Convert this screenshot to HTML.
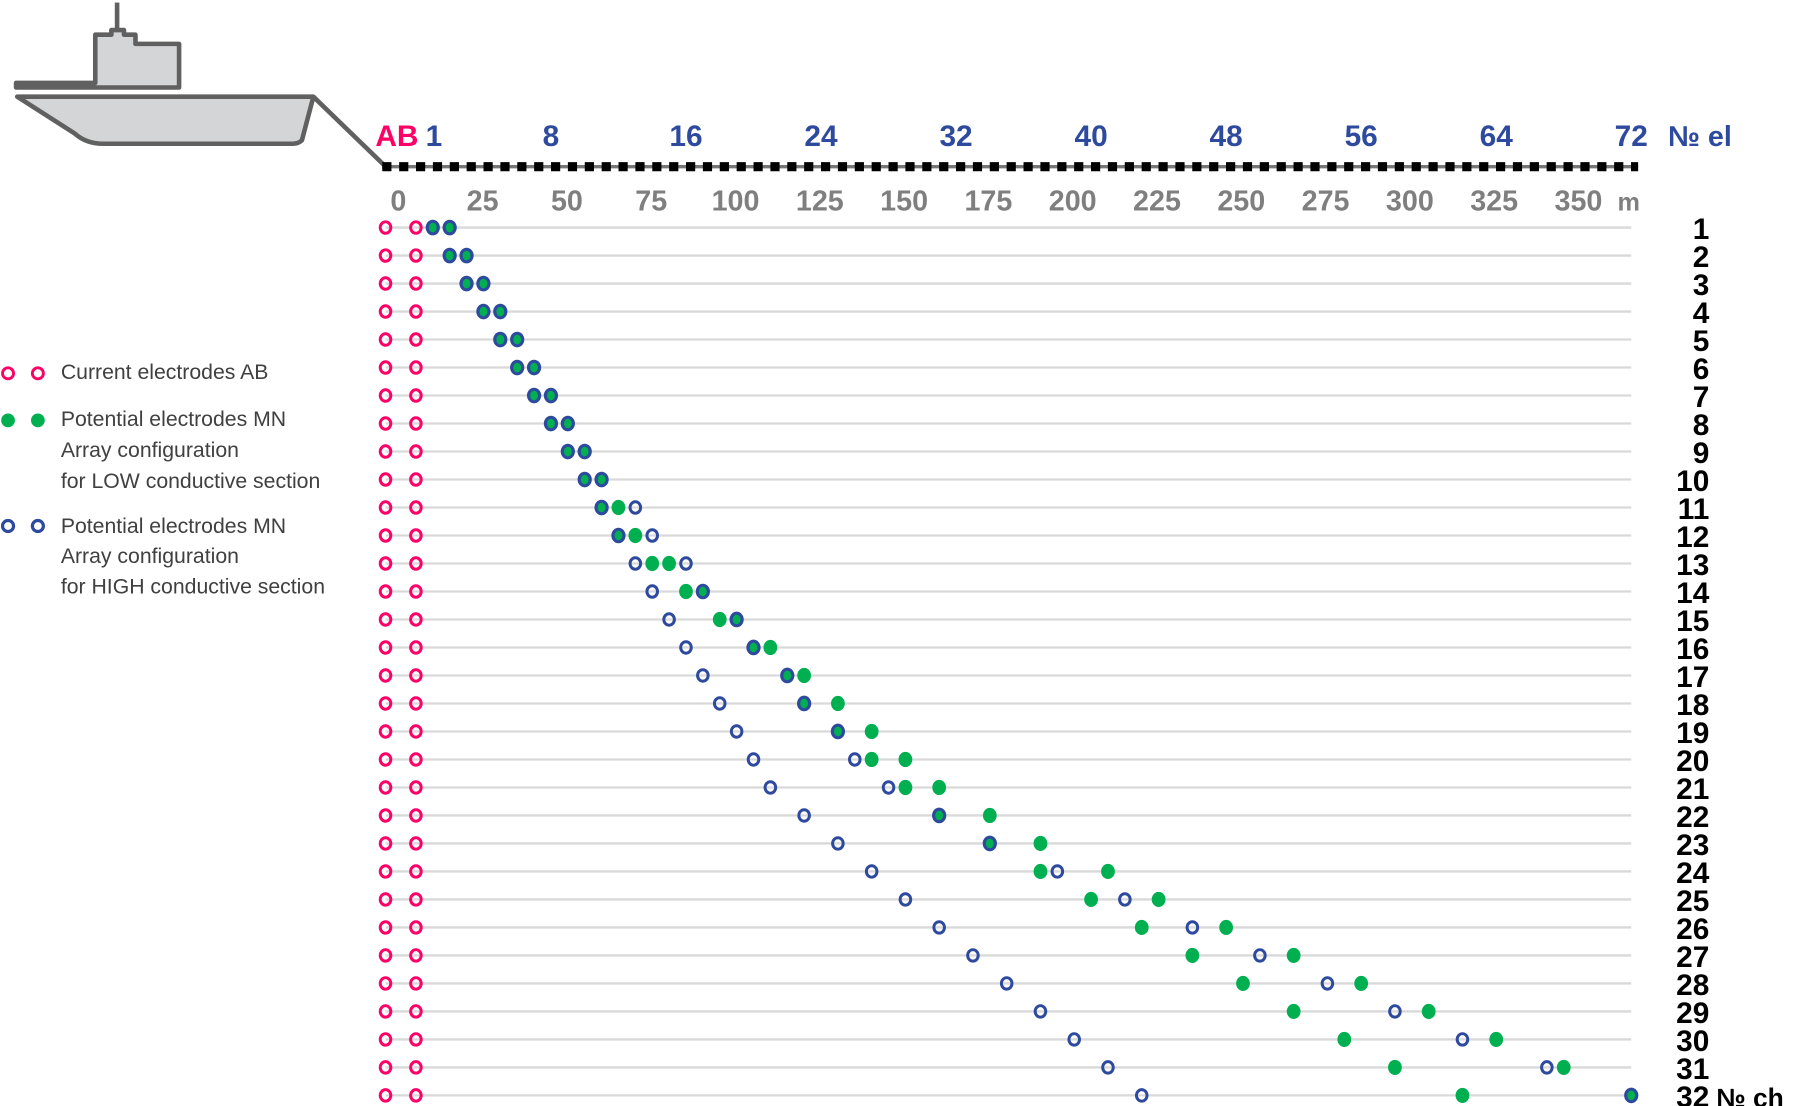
<!DOCTYPE html>
<html>
<head>
<meta charset="utf-8">
<style>
  html,body{margin:0;padding:0;background:#fff;}
  svg{display:block;}
  text{font-family:"Liberation Sans",sans-serif;}
</style>
</head>
<body>
<svg id="chart" width="1800" height="1106" viewBox="0 0 1568 963" xmlns="http://www.w3.org/2000/svg">
  <g id="ship" fill="#d4d5d7" stroke="#606060" stroke-width="4" stroke-linejoin="round">
    <line x1="102" y1="2" x2="102" y2="26" />
    <path d="M14,72 L83,72 L83,30 L97,30 L97,26 L108,26 L108,30 L118,30 L118,38 L156,38 L156,76 L14,76 Z" />
    <path d="M15,84 L273,84 L263,122 Q260,125 255,125 L90,125 Q75,125 65,116 Z" />
    <line x1="273" y1="84" x2="336" y2="145" fill="none"/>
  </g>
  <g id="cable">
    <line x1="333" y1="145" x2="1427" y2="145" stroke="#777" stroke-width="3"/>
    <line x1="333" y1="145" x2="1427" y2="145" stroke="#000" stroke-width="8" stroke-dasharray="8 6.7"/>
  </g>
  <g id="top-labels"></g>
  <g id="grid"></g>
  <g id="markers"></g>
  <g id="row-labels"></g>
  <g id="legend" font-size="18.5" fill="#404040">
    <g>
      <ellipse cx="7" cy="325" rx="4.8" ry="4.8" fill="none" stroke="#ff0066" stroke-width="2.5"/>
      <ellipse cx="33" cy="325" rx="4.8" ry="4.8" fill="none" stroke="#ff0066" stroke-width="2.5"/>
      <text x="53" y="330" fill="#404040">Current electrodes AB</text>
    </g>
    <g>
      <circle cx="7" cy="366" r="6" fill="#00b050"/>
      <circle cx="33" cy="366" r="6" fill="#00b050"/>
      <text x="53" y="371" fill="#404040">Potential electrodes MN</text>
      <text x="53" y="398" fill="#404040">Array configuration</text>
      <text x="53" y="425" fill="#404040">for LOW conductive section</text>
    </g>
    <g>
      <ellipse cx="7" cy="458" rx="4.8" ry="4.8" fill="none" stroke="#2e4a9e" stroke-width="2.8"/>
      <ellipse cx="33" cy="458" rx="4.8" ry="4.8" fill="none" stroke="#2e4a9e" stroke-width="2.8"/>
      <text x="53" y="464" fill="#404040">Potential electrodes MN</text>
      <text x="53" y="490" fill="#404040">Array configuration</text>
      <text x="53" y="517" fill="#404040">for HIGH conductive section</text>
    </g>
  </g>
</svg>
<script>
// ---- data ----
const electrodeTicks = [1, 8, 16, 24, 32, 40, 48, 56, 64, 72];
const distanceTicks = [0, 25, 50, 75, 100, 125, 150, 175, 200, 225, 250, 275, 300, 325, 350];
const channels = [1,2,3,4,5,6,7,8,9,10,11,12,13,14,15,16,17,18,19,20,21,22,23,24,25,26,27,28,29,30,31,32];
const lowM  = [1,2,3,4,5,6,7,8,9,10,11,12,14,16,18,20,22,23,25,27,29,31,34,37,40,43,46,49,52,55,58,62];
const lowN  = [2,3,4,5,6,7,8,9,10,11,12,13,15,17,19,21,23,25,27,29,31,34,37,41,44,48,52,56,60,64,68,72];
const highM = [1,2,3,4,5,6,7,8,9,10,11,12,13,14,15,16,17,18,19,20,21,23,25,27,29,31,33,35,37,39,41,43];
const highN = [2,3,4,5,6,7,8,9,10,11,13,14,16,17,19,20,22,23,25,26,28,31,34,38,42,46,50,54,58,62,67,72];
const electrodeA = -1.8;
const electrodeB = 0.0;

// ---- axes ----
const xEl = e => 377 + (e - 1) * (1421 - 377) / 71;
const xM = m => 347 + m * (1375 - 347) / 350;
const yRow = c => 198 + (c - 1) * (954 - 198) / 31;

const NS = "http://www.w3.org/2000/svg";
function mk(tag, attrs, parent) {
  const el = document.createElementNS(NS, tag);
  for (const k in attrs) el.setAttribute(k, attrs[k]);
  parent.appendChild(el);
  return el;
}
const topG = document.getElementById('top-labels');
const gridG = document.getElementById('grid');
const markG = document.getElementById('markers');
const rowG = document.getElementById('row-labels');

let t = mk('text', {x: 327, y: 127, 'font-size': 26, 'font-weight': 'bold', fill: '#ff0066'}, topG);
t.textContent = 'AB';



electrodeTicks.forEach(e => {
  const tx = mk('text', {x: xEl(e) + (e === 1 ? 1 : 0), y: 127, 'font-size': 26, 'font-weight': 'bold', fill: '#2e4a9e', 'text-anchor': 'middle'}, topG);
  tx.textContent = e;
  
  
});
t = mk('text', {x: 1453, y: 127, 'font-size': 25, 'font-weight': 'bold', fill: '#2e4a9e'}, topG);
t.textContent = '№ el';



distanceTicks.forEach(m => {
  const tx = mk('text', {x: xM(m), y: 183, 'font-size': 25, 'font-weight': 'bold', fill: '#7f7f7f', 'text-anchor': 'middle'}, topG);
  tx.textContent = m;
  
  
});
t = mk('text', {x: 1409, y: 183, 'font-size': 22, 'font-weight': 'bold', fill: '#7f7f7f'}, topG);
t.textContent = 'm';



function ring(x, y, color, name) {
  const e = mk('ellipse', {cx: x, cy: y, rx: 4.6, ry: 5.0, fill: 'none', stroke: color, 'stroke-width': 2.6}, markG);
  
  
}
function dot(x, y, name) {
  const e = mk('ellipse', {cx: x, cy: y, rx: 6, ry: 6.6, fill: '#00b050'}, markG);
  
  
}
function both(x, y, name) {
  const g = mk('g', {}, markG);
  
  
  mk('ellipse', {cx: x, cy: y, rx: 6.2, ry: 6.8, fill: '#2e4a9e'}, g);
  mk('ellipse', {cx: x, cy: y, rx: 3.4, ry: 4.2, fill: '#00b050'}, g);
}

channels.forEach((c, i) => {
  const y = yRow(c);
  const gl = mk('line', {x1: xEl(electrodeA), y1: y, x2: 1421, y2: y, stroke: '#d9d9d9', 'stroke-width': 2}, gridG);
  
  

  ring(xEl(electrodeA), y, '#ff0066', 'electrode-a');
  ring(xEl(electrodeB), y, '#ff0066', 'electrode-b');

  const low = [lowM[i], lowN[i]];
  const high = [highM[i], highN[i]];
  high.forEach(e => { if (!low.includes(e)) ring(xEl(e), y, '#2e4a9e', 'high-mn-electrode'); });
  low.forEach(e => {
    if (high.includes(e)) both(xEl(e), y, 'shared-mn-electrode');
    else dot(xEl(e), y, 'low-mn-electrode');
  });

  const lab = mk('text', {x: 1489, y: y + 10, 'font-size': 26, 'font-weight': 'bold', fill: '#000', 'text-anchor': 'end'}, rowG);
  lab.textContent = c;
  
  
});
t = mk('text', {x: 1495, y: yRow(32) + 10, 'font-size': 23, 'font-weight': 'bold', fill: '#000'}, rowG);
t.textContent = '№ ch';


</script>
</body>
</html>
